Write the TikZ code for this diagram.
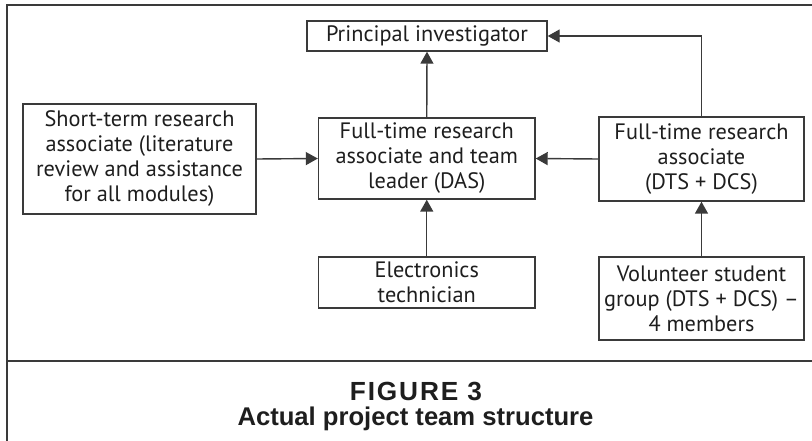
\documentclass[tikz,border=0pt]{standalone}
\usepackage{fontspec}
\setmainfont{PT Sans}
\newfontfamily\capfont{Liberation Sans}
\usetikzlibrary{arrows.meta}
\definecolor{linegray}{HTML}{3A3A3A}
\definecolor{textgray}{HTML}{1E1E1E}
\tikzset{
  boxnode/.style={draw=linegray, line width=1.4pt, inner sep=0pt, align=center,
    text=textgray, font=\fontsize{22.3}{25}\selectfont},
  conn/.style={draw=linegray, line width=1.4pt,
    -{Triangle[length=12pt,width=13pt]}},
  frameline/.style={draw=linegray, line width=1.8pt},
  captext/.style={text=textgray, inner sep=0pt, anchor=base},
}
\newcommand{\capstyle}{\capfont\fontsize{25}{30}\selectfont\bfseries}
\begin{document}
\begin{tikzpicture}[x=1pt,y=-1pt]
\useasboundingbox (0,0) rectangle (812,441);
% frame
\draw[frameline] (812,5) -- (7,5) -- (7,441);
\draw[frameline] (7,360.7) -- (812,360.7);
% boxes
\node[boxnode, minimum width=240pt, minimum height=30pt] (pi) at (427,36) {Principal investigator};
\node[boxnode, minimum width=233pt, minimum height=110pt] (st) at (139.5,159)
  {Short-term research\\associate (literature\\review and assistance\\for all modules)};
\node[boxnode, minimum width=216.5pt, minimum height=81pt] (lead) at (426.75,158.5)
  {Full-time research\\associate and team\\leader (DAS)};
\node[boxnode, minimum width=205pt, minimum height=84pt] (ftr) at (701.5,159)
  {Full-time research\\associate\\(DTS + DCS)};
\node[boxnode, minimum width=216.5pt, minimum height=51pt] (el) at (426.75,282.5)
  {Electronics\\technician};
\node[boxnode, minimum width=205pt, minimum height=83pt] (vol) at (701.5,298.5)
  {Volunteer student\\group (DTS + DCS) --\\4 members};
% connectors
\draw[conn] (lead.north) -- (pi.south);
\draw[conn] (st.east) -- (lead.west);
\draw[conn] (ftr.west) -- (lead.east);
\draw[conn] (el.north) -- (lead.south);
\draw[conn] (vol.north) -- (ftr.south);
\draw[conn] (ftr.north) |- (pi.east);
% caption
\node[captext] (fig) at (416,400) {\resizebox{132pt}{!}{\capstyle\addfontfeature{LetterSpace=7}FIGURE~3}};
\node[captext] (title) at (415.5,425) {\resizebox{356pt}{!}{\capstyle Actual project team structure}};
\end{tikzpicture}
\end{document}
